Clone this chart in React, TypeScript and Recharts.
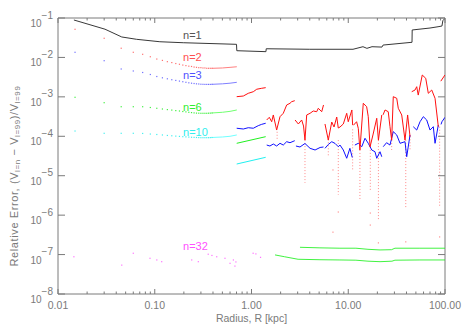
import { LineChart, Line, XAxis, YAxis, ReferenceLine, ReferenceDot } from "recharts";

// radii of the coarse inner grid (plotted as dots) and of the dense bridge to 0.7 kpc
const innerR = [0.015, 0.03, 0.045, 0.06, 0.075, 0.09, 0.105, 0.12, 0.135, 0.15, 0.165, 0.18, 0.195, 0.21, 0.225, 0.24, 0.255, 0.27, 0.285, 0.3, 0.315, 0.33, 0.345, 0.36, 0.375, 0.39];
const redInner = [0.0517, 0.0306, 0.0171, 0.0135, 0.012, 0.0104, 0.0091, 0.0084, 0.0078, 0.0074, 0.007, 0.0067, 0.0064, 0.0062, 0.006, 0.0059, 0.0057, 0.0056, 0.0055, 0.0055, 0.0054, 0.0054, 0.0053, 0.0053, 0.0053, 0.0053];
const blueInner = [0.0135, 0.00826, 0.00509, 0.00453, 0.00415, 0.00369, 0.00328, 0.00304, 0.00287, 0.00272, 0.00261, 0.00251, 0.00242, 0.00234, 0.00227, 0.00222, 0.00218, 0.00214, 0.00212, 0.00209, 0.00208, 0.00207, 0.00207, 0.00207, 0.00207, 0.00208];
const greenInner = [0.000975, 0.000711, 0.000562, 0.000562, 0.000562, 0.000537, 0.000513, 0.000492, 0.000475, 0.000462, 0.000448, 0.000438, 0.000425, 0.000416, 0.000406, 0.000399, 0.000392, 0.000387, 0.000385, 0.000383, 0.000383, 0.000383, 0.000383, 0.000385, 0.000387, 0.00039];
const cyanInner = [0.000136, 0.000119, 0.000119, 0.000119, 0.000118, 0.000114, 0.000111, 0.000108, 0.000105, 0.000103, 0.000101, 9.93e-5, 9.77e-5, 9.66e-5, 9.55e-5, 9.44e-5, 9.38e-5, 9.32e-5, 9.26e-5, 9.21e-5, 9.21e-5, 9.21e-5, 9.21e-5, 9.21e-5, 9.26e-5, 9.32e-5];

const bridgeR = [0.39, 0.5, 0.6, 0.705];
const redBridge = [0.0053, 0.0054, 0.0056, 0.0058];
const blueBridge = [0.00208, 0.00214, 0.00222, 0.00234];
const greenBridge = [0.00039, 0.000406, 0.000429, 0.000465];
const cyanBridge = [9.32e-5, 9.6e-5, 1.0e-4, 1.08e-4];

// n=1, one continuous line [R, error]
const blackLine = [
  [0.0146, 0.089], [0.0306, 0.052], [0.0456, 0.033], [0.065, 0.0288], [0.113, 0.025], [0.197, 0.0236],
  [0.7, 0.0215], [0.705, 0.0148], [1.41, 0.014], [1.42, 0.0166], [4.0, 0.0161], [11.2, 0.0161],
  [14.2, 0.0187], [15.6, 0.017], [17.6, 0.0187], [22.3, 0.0183], [22.9, 0.0206], [45.6, 0.0242],
  [45.8, 0.0497], [70, 0.0557], [84.7, 0.06], [93, 0.0626], [95, 0.0855], [100, 0.098],
];

// outer radial shells, each a separate segment [R, error]
const redOuter = [
  [[0.703, 0.00101], [0.823, 0.00105], [0.926, 0.00123], [1.044, 0.00135], [1.132, 0.00156], [1.274, 0.00165], [1.402, 0.00171]],
  [[1.436, 2.59e-4], [1.527, 3.03e-4], [1.617, 2.34e-4], [1.68, 3.47e-4], [1.82, 1.44e-4], [1.97, 3.14e-4], [2.13, 3.83e-4], [2.31, 6.22e-4], [2.5, 6.87e-4], [2.6, 7.54e-4], [2.8, 8.0e-4]],
  [[2.82, 2.59e-4], [3.05, 2.05e-4], [3.3, 2.59e-4], [3.45, 1.82e-4], [3.57, 8.0e-5], [3.72, 3.47e-4], [4.03, 3.83e-4], [4.35, 4.38e-4], [4.72, 4.2e-4], [4.9, 5.13e-4], [5.32, 4.2e-4], [5.55, 6.22e-4]],
  [[5.75, 2.05e-4], [6.22, 8.0e-5], [6.75, 2.3e-4], [7.13, 1.72e-4], [7.6, 3.08e-4], [7.89, 1.62e-4], [8.22, 1.72e-4], [8.89, 2.05e-4], [9.64, 3.83e-4], [10.0, 2.34e-4], [10.9, 4.65e-4], [11.1, 1.93e-4]],
  [[11.3, 1.9e-4], [12.2, 2.34e-4], [12.7, 1.59e-4], [13.2, 4.5e-5], [14.3, 6.87e-4], [15.5, 5.62e-4], [16.1, 3.14e-4], [16.8, 5.4e-5], [18.0, 1.08e-4], [19.7, 2.86e-4], [20.5, 8.0e-5], [22.2, 3.47e-4]],
  [[22.9, 3.5e-4], [24.0, 4.65e-4], [25.9, 4.2e-4], [27.0, 1.75e-4], [28.1, 8.0e-5], [29.2, 1.01e-3], [31.7, 9.2e-4], [32.9, 5.13e-4], [35.7, 3.47e-4], [38.6, 8.0e-5], [41.1, 3.47e-4], [43.5, 9.8e-5]],
  [[45.3, 1.35e-3], [49.0, 1.49e-3], [51.0, 1.81e-3], [52.9, 1.11e-3], [58.2, 3.58e-3], [63.2, 2.96e-3], [67.2, 1.23e-3], [72.9, 1.49e-3], [78.9, 9.2e-4], [85.3, 1.75e-4]],
  [[90.5, 2.5e-3], [100, 3.6e-3]],
];
const blueOuter = [
  [[0.703, 1.6e-4], [0.823, 1.53e-4], [0.926, 1.65e-4], [1.044, 1.6e-4], [1.175, 1.86e-4], [1.274, 2.01e-4], [1.402, 2.14e-4]],
  [[1.436, 6.0e-5], [1.55, 5.67e-5], [1.68, 6.37e-5], [1.82, 5.67e-5], [1.97, 6.64e-5], [2.13, 6.0e-5], [2.31, 7.29e-5], [2.5, 6.88e-5], [2.8, 7.73e-5]],
  [[2.88, 5.67e-5], [3.17, 5.35e-5], [3.57, 6.56e-5], [4.03, 4.95e-5], [4.54, 4.49e-5], [5.12, 5.2e-5], [5.55, 5.35e-5]],
  [[5.75, 4.95e-5], [6.22, 6.2e-5], [6.75, 7.29e-5], [7.3, 6.6e-5], [7.89, 5.45e-5], [8.22, 6.0e-5], [8.89, 4.49e-5], [9.64, 2.77e-5], [10.4, 4.95e-5], [11.0, 2.9e-5]],
  [[11.7, 6.0e-5], [12.7, 6.64e-5], [13.8, 5.45e-5], [14.9, 8.9e-5], [16.1, 6.64e-5], [17.5, 4.49e-5], [18.9, 4.06e-5], [19.7, 2.77e-5], [21.3, 4.06e-5], [22.2, 3.03e-5]],
  [[23.0, 5.45e-5], [24.9, 6.88e-5], [27.0, 6.0e-5], [29.2, 1.31e-4], [31.7, 1.08e-4], [34.3, 6.64e-5], [38.6, 7.29e-5], [40.2, 3.03e-5], [43.5, 1.08e-4]],
  [[47.0, 1.75e-4], [51.0, 1.44e-4], [55.2, 2.34e-4], [59.7, 3.14e-4], [64.7, 2.59e-4], [70.0, 1.44e-4], [75.7, 1.75e-4], [78.9, 6.64e-5], [85.3, 1.93e-4]],
  [[91, 2.0e-4], [93, 2.34e-4], [100, 3.03e-4]],
];
const greenOuter = [[[0.703, 6.64e-5], [1.402, 9.77e-5]]];
const cyanOuter = [[[0.703, 1.98e-5], [1.402, 2.93e-5]]];

// n=32 curves far out, and scattered n=32 points inside
const greenLowA = [[1.75, 9.8e-8], [2.2, 8.8e-8], [3.03, 7.6e-8], [5.1, 7.4e-8], [8.2, 7.3e-8], [12, 7.2e-8], [16, 6.8e-8], [21.3, 6.6e-8], [28.3, 6.8e-8], [30.4, 7.2e-8], [55, 7.3e-8], [100, 7.3e-8]];
const greenLowB = [[3.17, 1.53e-7], [5.1, 1.48e-7], [8.2, 1.45e-7], [12, 1.45e-7], [16, 1.36e-7], [21.3, 1.31e-7], [28, 1.33e-7], [30.4, 1.45e-7], [55, 1.45e-7], [100, 1.45e-7]];
const magentaDots = [
  [0.0146, 8.8e-8], [0.0456, 5.4e-8], [0.06, 1.08e-7], [0.0893, 8.05e-8], [0.105, 7.3e-8], [0.118, 6.6e-8],
  [0.241, 7.3e-8], [0.282, 6.6e-8], [0.357, 1.02e-7], [0.39, 9.5e-8], [0.437, 8.8e-8], [0.532, 8.05e-8],
  [0.6, 6.0e-8], [0.65, 7.3e-8], [0.674, 5.1e-8], [0.69, 6.5e-8], [1.04, 1.08e-7], [1.11, 1.04e-7], [1.24, 8.5e-8],
];

// sign-change dips of n=2 (drawn faint, dotted)
const dipR = [1.84, 3.57, 6.22, 7.89, 11.1, 13.2, 16.9, 20.5, 28.1, 39.3, 43.5, 88];
const dipTop = [1.3e-4, 8e-5, 1.0e-4, 8e-5, 1.5e-4, 4.5e-5, 5.4e-5, 8e-5, 8e-5, 8e-5, 1e-4, 1.75e-4];
const dipBottom = [8e-5, 6.6e-6, 3.0e-5, 3.3e-6, 1.4e-5, 2.4e-6, 4.3e-6, 7.5e-7, 4.5e-5, 1.6e-6, 4.5e-5, 1.6e-6];
const strayRed = [[6.95, 1.4e-5], [6.95, 3.7e-7], [16.9, 1.13e-6], [16.9, 5.6e-7], [20.5, 1.98e-7], [39.3, 2.1e-7], [88, 2.8e-7], [7.89, 1.2e-6]];

const seriesNames = ["n=1", "n=2", "n=3", "n=6", "n=10", "n=32"];
const seriesLabelY = [0.037, 0.0103, 0.00358, 5.5e-4, 1.29e-4, 1.65e-7];
const seriesLabelColors = ["#555555", "#ff5050", "#5050ff", "#30ee30", "#30eeee", "#ff50ff"];
const labelR = 0.196;

const xTicks = [0.01, 0.02, 0.03, 0.04, 0.05, 0.06, 0.07, 0.08, 0.09, 0.1, 0.2, 0.3, 0.4, 0.5, 0.6, 0.7, 0.8, 0.9, 1, 2, 3, 4, 5, 6, 7, 8, 9, 10, 20, 30, 40, 50, 60, 70, 80, 90, 100];
const xMajor = [0.01, 0.1, 1, 10, 100];
const xMajorLabels = ["0.01", "0.10", "1.00", "10.00", "100.00"];
const yTicks = [1e-8, 1e-7, 1e-6, 1e-5, 1e-4, 1e-3, 1e-2, 1e-1];

const W = 463;
const H = 331;
const MARGIN = { top: 18, right: 18, bottom: 7, left: 8 };
const PLOT_TOP = MARGIN.top;
const PLOT_RIGHT = W - MARGIN.right;
const AXIS = "#7a7a7a";
const TEXT = "#7a7a7a";

type Row = { r: number; v: number | null };

const zipRows = (rs: number[], vs: number[]): Row[] => rs.map((r, i) => ({ r, v: vs[i] }));
const pairRows = (pairs: number[][]): Row[] => pairs.map(([r, v]) => ({ r, v }));
const segRows = (segs: number[][][]): Row[] => {
  const rows: Row[] = [];
  segs.forEach((seg) => {
    seg.forEach(([r, v]) => rows.push({ r, v }));
    rows.push({ r: seg[seg.length - 1][0], v: null });
  });
  return rows;
};
const dipRows: Row[] = [];
dipR.forEach((r, i) => {
  dipRows.push({ r, v: dipTop[i] });
  dipRows.push({ r, v: dipBottom[i] });
  dipRows.push({ r, v: null });
});

const pixelDot = (color: string) => (p: any) => {
  if (p.cx == null || p.cy == null || p.value == null) return <g key={p.index} />;
  return <rect key={p.index} x={p.cx - 0.6} y={p.cy - 0.6} width={1.2} height={1.2} fill={color} />;
};

const XTick = (props: any) => {
  const { x, y, payload } = props;
  const idx = xMajor.indexOf(payload.value);
  const len = idx >= 0 ? 5 : 2.5;
  return (
    <g>
      <line x1={x} y1={y} x2={x} y2={y - len} stroke={AXIS} />
      <line x1={x} y1={PLOT_TOP} x2={x} y2={PLOT_TOP + len} stroke={AXIS} />
      {idx >= 0 && (
        <text x={x} y={y + 15} textAnchor="middle" fontSize={10.5} fill={TEXT}>
          {xMajorLabels[idx]}
        </text>
      )}
    </g>
  );
};

const YTick = (props: any) => {
  const { x, y, payload } = props;
  const exp = Math.round(Math.log10(payload.value));
  return (
    <g>
      <line x1={x} y1={y} x2={x + 7} y2={y} stroke={AXIS} />
      <line x1={PLOT_RIGHT - 7} y1={y} x2={PLOT_RIGHT} y2={y} stroke={AXIS} />
      <text x={x - 5} y={y + 9} textAnchor="end" fontSize={10} fill={TEXT}>
        10<tspan dy={-8.5}>{`\u2212${-exp}`}</tspan>
      </text>
    </g>
  );
};

const YTitle = () => (
  <text transform="translate(18,176) rotate(-90)" textAnchor="middle" fontSize={11} letterSpacing={0.6} fill={TEXT}>
    Relative Error, (V<tspan dy={2} fontSize={8}>l=n</tspan>
    <tspan dy={-2}> {"\u2212"} V</tspan>
    <tspan dy={2} fontSize={8}>l=99</tspan>
    <tspan dy={-2}>)/V</tspan>
    <tspan dy={2} fontSize={8}>l=99</tspan>
  </text>
);

const XTitle = () => (
  <text x={(MARGIN.left + 50 + PLOT_RIGHT) / 2} y={322} textAnchor="middle" fontSize={10.5} fill={TEXT}>
    Radius, R [kpc]
  </text>
);

export default function App() {
  const dotLine = (key: string, data: Row[], color: string) => (
    <Line key={key} data={data} dataKey="v" stroke="none" dot={pixelDot(color)} activeDot={false} isAnimationActive={false} />
  );
  const solid = (key: string, data: Row[], color: string, width = 1, opacity = 1) => (
    <Line key={key} data={data} dataKey="v" type="linear" stroke={color} strokeWidth={width} strokeOpacity={opacity} dot={false} activeDot={false} connectNulls={false} isAnimationActive={false} />
  );

  return (
    <div style={{ position: "absolute", left: 0, top: 0, fontFamily: "'Liberation Sans', Arial, sans-serif" }}>
      <LineChart width={W} height={H} margin={MARGIN}>
        <XAxis
          dataKey="r"
          type="number"
          scale="log"
          domain={[0.01, 100]}
          allowDataOverflow
          ticks={xTicks}
          interval={0}
          tickSize={0}
          tickMargin={0}
          tickLine={false}
          tick={<XTick />}
          axisLine={{ stroke: AXIS }}
          height={30}
          label={<XTitle />}
        />
        <YAxis
          type="number"
          scale="log"
          domain={[1e-8, 1e-1]}
          allowDataOverflow
          ticks={yTicks}
          interval={0}
          tickSize={0}
          tickMargin={0}
          tickLine={false}
          tick={<YTick />}
          axisLine={{ stroke: AXIS }}
          width={50}
          label={<YTitle />}
        />
        <ReferenceLine y={1e-1} stroke={AXIS} />
        <ReferenceLine x={100} stroke={AXIS} />

        {dotLine("redIn", zipRows(innerR, redInner), "#ff7070")}
        {dotLine("blueIn", zipRows(innerR, blueInner), "#7070ff")}
        {dotLine("greenIn", zipRows(innerR, greenInner), "#40f040")}
        {dotLine("cyanIn", zipRows(innerR, cyanInner), "#40f0f0")}
        {dotLine("magIn", pairRows(magentaDots), "#ff70ff")}
        {dotLine("redStray", pairRows(strayRed), "#ff9090")}

        {solid("redBr", zipRows(bridgeR, redBridge), "#ff8080")}
        {solid("blueBr", zipRows(bridgeR, blueBridge), "#8080ff")}
        {solid("greenBr", zipRows(bridgeR, greenBridge), "#70ff70")}
        {solid("cyanBr", zipRows(bridgeR, cyanBridge), "#70ffff")}

        <Line data={dipRows} dataKey="v" stroke="#ff8a8a" strokeWidth={1} strokeDasharray="1 2" dot={false} activeDot={false} connectNulls={false} isAnimationActive={false} />

        {solid("greenA", pairRows(greenLowA), "#20f020", 1, 0.85)}
        {solid("greenB", pairRows(greenLowB), "#20f020", 1, 0.85)}
        {solid("greenOut", segRows(greenOuter), "#20f020")}
        {solid("cyanOut", segRows(cyanOuter), "#20f0f0")}
        {solid("blueOut", segRows(blueOuter), "#1010ff")}
        {solid("redOut", segRows(redOuter), "#ff1010")}
        {solid("black", pairRows(blackLine), "#383838")}

        {seriesNames.map((name, i) => (
          <ReferenceDot
            key={name}
            x={labelR}
            y={seriesLabelY[i]}
            r={0}
            fill="none"
            stroke="none"
            label={{ value: name, position: "right", offset: 0, fill: seriesLabelColors[i], fontSize: 11 }}
          />
        ))}
      </LineChart>
    </div>
  );
}
